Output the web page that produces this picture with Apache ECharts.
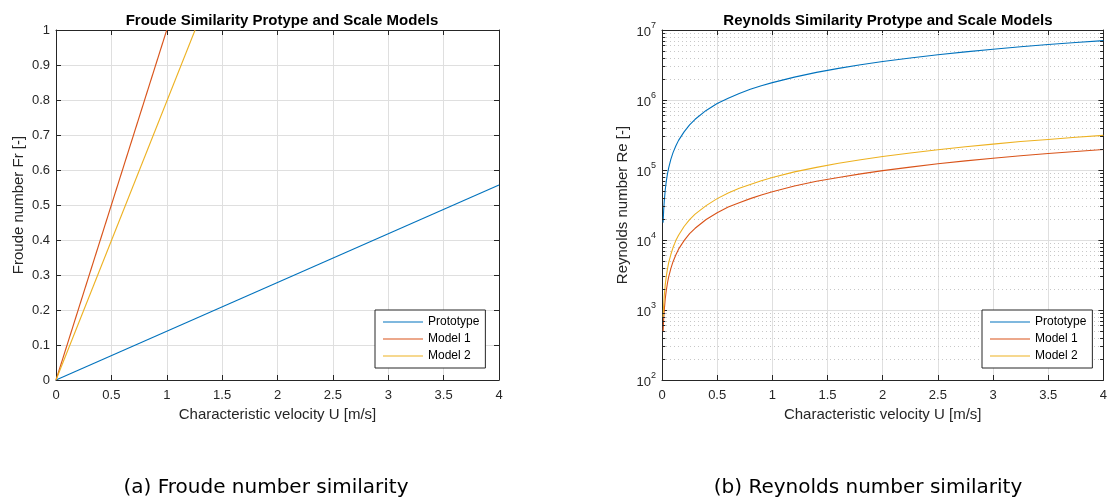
<!DOCTYPE html>
<html>
<head>
<meta charset="utf-8">
<script src="https://cdn.jsdelivr.net/npm/echarts@6/dist/echarts.min.js"></script>
<style>
  html, body { margin: 0; padding: 0; background: #fff; }
  #chart { width: 1110px; height: 502px; }
</style>
</head>
<body>
<div id="chart"></div>
<script>
// Froude plot: straight lines, [U, Fr] end points
const frProtoU = [0, 4]
const frProto = [0, 0.557]
const frModel1U = [0, 1.0]
const frModel1 = [0, 1.0]
const frModel2U = [0, 1.256]
const frModel2 = [0, 1.0]

// Reynolds plot: samples along the curves
const reU = [0.01, 0.015, 0.02, 0.03, 0.04, 0.05, 0.06, 0.08, 0.1, 0.125,
  0.15, 0.2, 0.25, 0.3, 0.4, 0.5, 0.6, 0.7, 0.8, 0.9,
  1, 1.2, 1.4, 1.6, 1.8, 2, 2.25, 2.5, 2.75, 3,
  3.25, 3.5, 3.75, 4]
const reProto = [1.77e4, 2.65e4, 3.5e4, 5.3e4, 7.1e4, 8.9e4, 1.06e5, 1.42e5, 1.77e5, 2.2e5,
  2.65e5, 3.5e5, 4.4e5, 5.3e5, 7.1e5, 8.9e5, 1.06e6, 1.24e6, 1.42e6, 1.6e6,
  1.77e6, 2.12e6, 2.48e6, 2.83e6, 3.19e6, 3.54e6, 3.98e6, 4.42e6, 4.87e6, 5.31e6,
  5.75e6, 6.2e6, 6.63e6, 7.05e6]
const reModel1 = [490, 740, 980, 1470, 1960, 2450, 2950, 3900, 4900, 6100,
  7400, 9800, 1.23e4, 1.47e4, 1.96e4, 2.45e4, 2.95e4, 3.4e4, 3.9e4, 4.4e4,
  4.9e4, 5.9e4, 6.9e4, 7.8e4, 8.8e4, 9.8e4, 1.1e5, 1.23e5, 1.35e5, 1.47e5,
  1.6e5, 1.72e5, 1.84e5, 1.96e5]
const reModel2 = [780, 1170, 1560, 2340, 3100, 3900, 4700, 6200, 7800, 9800,
  1.17e4, 1.56e4, 1.95e4, 2.34e4, 3.1e4, 3.9e4, 4.7e4, 5.5e4, 6.2e4, 7.0e4,
  7.8e4, 9.4e4, 1.09e5, 1.25e5, 1.4e5, 1.56e5, 1.75e5, 1.95e5, 2.15e5, 2.34e5,
  2.55e5, 2.73e5, 2.93e5, 3.12e5]

// minor grid values of the log axis (2..9 x 10^k)
const minorExp = [2, 3, 4, 5, 6]
const minorMul = [2, 3, 4, 5, 6, 7, 8, 9]

const seriesNames = ['Prototype', 'Model 1', 'Model 2']
const colors = ['#0072bd', '#d95319', '#edb120']

const axisColor = '#262626'
const font = 'Liberation Sans, Arial, Helvetica, sans-serif'

function pairs (xs, ys) {
  return xs.map((x, i) => [x, ys[i]])
}

const minorVals = []
minorExp.forEach(k => minorMul.forEach(m => minorVals.push(m * Math.pow(10, k))))

const minorGrid = minorVals.map(v => ({ yAxis: v }))
const minorTicks = []
minorVals.forEach(v => {
  minorTicks.push([{ coord: [0, v] }, { coord: [0.03, v] }])
  minorTicks.push([{ coord: [3.97, v] }, { coord: [4, v] }])
})

function xAxes (gridIndex) {
  const base = {
    gridIndex,
    type: 'value',
    min: 0,
    max: 4,
    interval: 0.5,
    axisLine: { show: true, onZero: false, lineStyle: { color: axisColor, width: 1 } },
    axisTick: { show: true, inside: true, length: 5, lineStyle: { color: axisColor } }
  }
  return [
    Object.assign({}, base, {
      position: 'bottom',
      name: 'Characteristic velocity U [m/s]',
      nameLocation: 'middle',
      nameGap: 27,
      nameTextStyle: { fontFamily: font, fontSize: 15, color: axisColor },
      axisLabel: { fontFamily: font, fontSize: 13, color: axisColor, margin: 9 },
      splitLine: { show: true, lineStyle: { color: '#dfdfdf', width: 1 } }
    }),
    Object.assign({}, base, {
      position: 'top',
      axisLabel: { show: false },
      splitLine: { show: false }
    })
  ]
}

function legendFor (left) {
  return {
    orient: 'vertical',
    left,
    top: 310,
    z: 20,
    data: seriesNames,
    icon: 'rect',
    itemWidth: 40,
    itemHeight: 1.2,
    itemGap: 3,
    padding: [5, 6, 5, 8],
    borderColor: axisColor,
    borderWidth: 1,
    backgroundColor: '#fff',
    textStyle: { fontFamily: font, fontSize: 12, color: '#000', lineHeight: 14 }
  }
}

const option = {
  animation: false,
  backgroundColor: '#fff',
  title: [
    {
      text: 'Froude Similarity Protype and Scale Models',
      left: 277,
      top: 8,
      textAlign: 'center',
      textStyle: { fontFamily: font, fontSize: 15, fontWeight: 'bold', color: '#000' }
    },
    {
      text: 'Reynolds Similarity Protype and Scale Models',
      left: 883,
      top: 8,
      textAlign: 'center',
      textStyle: { fontFamily: font, fontSize: 15, fontWeight: 'bold', color: '#000' }
    }
  ],
  legend: [legendFor(375), legendFor(982)],
  grid: [
    { left: 56, top: 30, width: 443, height: 350 },
    { left: 662, top: 30, width: 443, height: 350 }
  ],
  xAxis: xAxes(0).concat(xAxes(1)),
  yAxis: [
    {
      gridIndex: 0,
      type: 'value',
      position: 'left',
      min: 0,
      max: 1,
      interval: 0.1,
      name: 'Froude number Fr [-]',
      nameLocation: 'middle',
      nameGap: 30,
      nameTextStyle: { fontFamily: font, fontSize: 15, color: axisColor },
      axisLine: { show: true, onZero: false, lineStyle: { color: axisColor } },
      axisTick: { show: true, inside: true, length: 5, lineStyle: { color: axisColor } },
      axisLabel: { fontFamily: font, fontSize: 13, color: axisColor, margin: 6 },
      splitLine: { show: true, lineStyle: { color: '#dfdfdf', width: 1 } }
    },
    {
      gridIndex: 0,
      type: 'value',
      position: 'right',
      min: 0,
      max: 1,
      interval: 0.1,
      axisLine: { show: true, onZero: false, lineStyle: { color: axisColor } },
      axisTick: { show: true, inside: true, length: 5, lineStyle: { color: axisColor } },
      axisLabel: { show: false },
      splitLine: { show: false }
    },
    {
      gridIndex: 1,
      type: 'log',
      logBase: 10,
      position: 'left',
      min: 100,
      max: 1e7,
      name: 'Reynolds number Re [-]',
      nameLocation: 'middle',
      nameGap: 32,
      nameTextStyle: { fontFamily: font, fontSize: 15, color: axisColor },
      axisLine: { show: true, onZero: false, lineStyle: { color: axisColor } },
      axisTick: { show: true, inside: true, length: 5, lineStyle: { color: axisColor } },
      axisLabel: {
        margin: 6,
        formatter: v => '{b|10}{e|' + Math.round(Math.log10(v)) + '}',
        rich: {
          b: { fontFamily: font, fontSize: 13, color: axisColor, lineHeight: 18, verticalAlign: 'bottom' },
          e: { fontFamily: font, fontSize: 9, color: axisColor, lineHeight: 18, verticalAlign: 'top' }
        }
      },
      splitLine: { show: true, lineStyle: { color: '#dfdfdf', width: 1 } }
    },
    {
      gridIndex: 1,
      type: 'log',
      logBase: 10,
      position: 'right',
      min: 100,
      max: 1e7,
      axisLine: { show: true, onZero: false, lineStyle: { color: axisColor } },
      axisTick: { show: true, inside: true, length: 5, lineStyle: { color: axisColor } },
      axisLabel: { show: false },
      splitLine: { show: false }
    }
  ],
  series: [
    {
      name: 'Prototype', type: 'line', xAxisIndex: 0, yAxisIndex: 0,
      data: pairs(frProtoU, frProto), symbol: 'none',
      lineStyle: { color: colors[0], width: 1.1 }, itemStyle: { color: colors[0] }
    },
    {
      name: 'Model 1', type: 'line', xAxisIndex: 0, yAxisIndex: 0,
      data: pairs(frModel1U, frModel1), symbol: 'none',
      lineStyle: { color: colors[1], width: 1.1 }, itemStyle: { color: colors[1] }
    },
    {
      name: 'Model 2', type: 'line', xAxisIndex: 0, yAxisIndex: 0,
      data: pairs(frModel2U, frModel2), symbol: 'none',
      lineStyle: { color: colors[2], width: 1.1 }, itemStyle: { color: colors[2] }
    },
    {
      name: 'Prototype', type: 'line', xAxisIndex: 2, yAxisIndex: 2,
      data: pairs(reU, reProto), symbol: 'none', z: 3,
      lineStyle: { color: colors[0], width: 1.1 }, itemStyle: { color: colors[0] },
      markLine: {
        silent: true,
        symbol: 'none',
        animation: false,
        z: 1,
        label: { show: false },
        lineStyle: { color: '#c8c8c8', width: 1, type: [1, 3] },
        emphasis: { disabled: true },
        data: minorGrid
      }
    },
    {
      name: 'Model 1', type: 'line', xAxisIndex: 2, yAxisIndex: 2,
      data: pairs(reU, reModel1), symbol: 'none', z: 3,
      lineStyle: { color: colors[1], width: 1.1 }, itemStyle: { color: colors[1] },
      markLine: {
        silent: true,
        symbol: 'none',
        animation: false,
        label: { show: false },
        lineStyle: { color: axisColor, width: 1, type: 'solid' },
        emphasis: { disabled: true },
        data: minorTicks
      }
    },
    {
      name: 'Model 2', type: 'line', xAxisIndex: 2, yAxisIndex: 2,
      data: pairs(reU, reModel2), symbol: 'none', z: 3,
      lineStyle: { color: colors[2], width: 1.1 }, itemStyle: { color: colors[2] }
    }
  ],
  graphic: [
    {
      type: 'text',
      x: 266,
      y: 488,
      style: {
        text: '(a) Froude number similarity', font: '20px "DejaVu Sans"', fill: '#000',
        align: 'center', verticalAlign: 'middle'
      }
    },
    {
      type: 'text',
      x: 868,
      y: 488,
      style: {
        text: '(b) Reynolds number similarity', font: '20px "DejaVu Sans"', fill: '#000',
        align: 'center', verticalAlign: 'middle'
      }
    }
  ]
}

const myChart = echarts.init(document.getElementById('chart'))
myChart.setOption(option)
</script>
</body>
</html>
